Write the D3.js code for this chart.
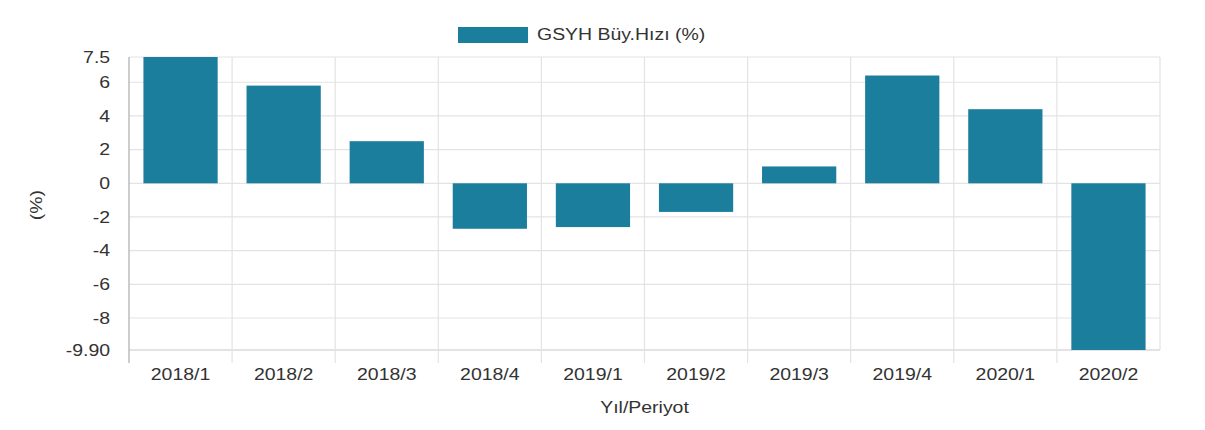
<!DOCTYPE html>
<html>
<head>
<meta charset="utf-8">
<script src="https://cdn.jsdelivr.net/npm/d3@7"></script>
<style>
	body { margin: 0; background: #fff; }
	svg { display: block; font-family: "Liberation Sans", Arial, sans-serif; }
</style>
</head>
<body>
<svg id="chart" width="1205" height="430"></svg>
<script>
'use strict';

var periods = ["2018/1", "2018/2", "2018/3", "2018/4", "2019/1", "2019/2", "2019/3", "2019/4", "2020/1", "2020/2"];
var growth = [7.5, 5.8, 2.5, -2.7, -2.6, -1.7, 1.0, 6.4, 4.4, -9.9];
var yTicks = [7.5, 6, 4, 2, 0, -2, -4, -6, -8, -9.9];
var yTickLabels = ["7.5", "6", "4", "2", "0", "-2", "-4", "-6", "-8", "-9.90"];
var seriesName = "GSYH Büy.Hızı (%)";

var margin = { top: 57, right: 45, bottom: 80, left: 129 };
var width = 1205 - margin.left - margin.right;
var height = 430 - margin.top - margin.bottom;
var barColor = "#1b7e9d";
var textColor = "#333";
var fontSize = 16.5;
// the text in the picture is a bit wider than the font
var stretch = "scale(1.18,1)";

var svg = d3.select("#chart");
var g = svg.append("g").attr("transform", "translate(" + margin.left + "," + margin.top + ")");

var x = d3.scaleBand().domain(periods).range([0, width]).padding(0);
var y = d3.scaleLinear().domain([-9.9, 7.5]).range([height, 0]);

// horizontal grid
g.selectAll(".hgrid")
	.data(yTicks)
	.enter().append("line")
	.attr("x1", 0).attr("x2", width)
	.attr("y1", function(d) { return y(d); })
	.attr("y2", function(d) { return y(d); })
	.attr("stroke", function(d) { return d === -9.9 ? "#c8c8c8" : "#e3e3e3"; })
	.attr("stroke-width", 1.2);

// vertical grid at band edges
var edges = periods.map(function(p) { return x(p); }).concat([width]);
g.selectAll(".vgrid")
	.data(edges)
	.enter().append("line")
	.attr("x1", function(d) { return d; }).attr("x2", function(d) { return d; })
	.attr("y1", 0)
	.attr("y2", function(d, i) { return i === edges.length - 1 ? height : height + 13; })
	.attr("stroke", function(d, i) { return i === 0 ? "#bdbdbd" : "#e3e3e3"; })
	.attr("stroke-width", function(d, i) { return i === 0 ? 1.5 : 1.2; });

// bars
var inset = x.bandwidth() * 0.14;
g.selectAll(".bar")
	.data(growth)
	.enter().append("rect")
	.attr("x", function(d, i) { return x(periods[i]) + inset; })
	.attr("width", x.bandwidth() - 2 * inset)
	.attr("y", function(d) { return y(Math.max(0, d)); })
	.attr("height", function(d) { return Math.abs(y(d) - y(0)); })
	.attr("fill", barColor);

// y axis
var yAxis = d3.axisLeft(y)
	.tickValues(yTicks)
	.tickFormat(function(d, i) { return yTickLabels[i]; })
	.tickSize(0)
	.tickPadding(16);

g.append("g").call(yAxis)
	.call(function(a) { a.select(".domain").remove(); })
	.selectAll("text")
	.attr("font-size", fontSize)
	.attr("fill", textColor)
	.attr("font-family", "Liberation Sans, Arial, sans-serif")
	.attr("transform", stretch);

// x axis
var xAxis = d3.axisBottom(x).tickSize(0).tickPadding(18);
g.append("g").attr("transform", "translate(0," + height + ")").call(xAxis)
	.call(function(a) { a.select(".domain").remove(); })
	.selectAll("text")
	.attr("font-size", fontSize)
	.attr("fill", textColor)
	.attr("font-family", "Liberation Sans, Arial, sans-serif")
	.attr("transform", stretch);

// axis titles
svg.append("g")
	.attr("transform", "translate(" + (margin.left + width / 2) + ",413)")
	.append("text")
	.attr("text-anchor", "middle")
	.attr("font-size", fontSize)
	.attr("fill", textColor)
	.attr("transform", stretch)
	.text("Yıl/Periyot");

svg.append("g")
	.attr("transform", "translate(42," + (margin.top + y(-1.3)) + ") rotate(-90)")
	.append("text")
	.attr("text-anchor", "middle")
	.attr("font-size", fontSize)
	.attr("fill", textColor)
	.attr("transform", stretch)
	.text("(%)");

// legend
var legend = svg.append("g").attr("transform", "translate(458,27)");
legend.append("rect")
	.attr("width", 70).attr("height", 16)
	.attr("fill", barColor);
legend.append("g")
	.attr("transform", "translate(79,12.5)")
	.append("text")
	.attr("font-size", fontSize)
	.attr("fill", textColor)
	.attr("transform", stretch)
	.text(seriesName);
</script>
</body>
</html>
